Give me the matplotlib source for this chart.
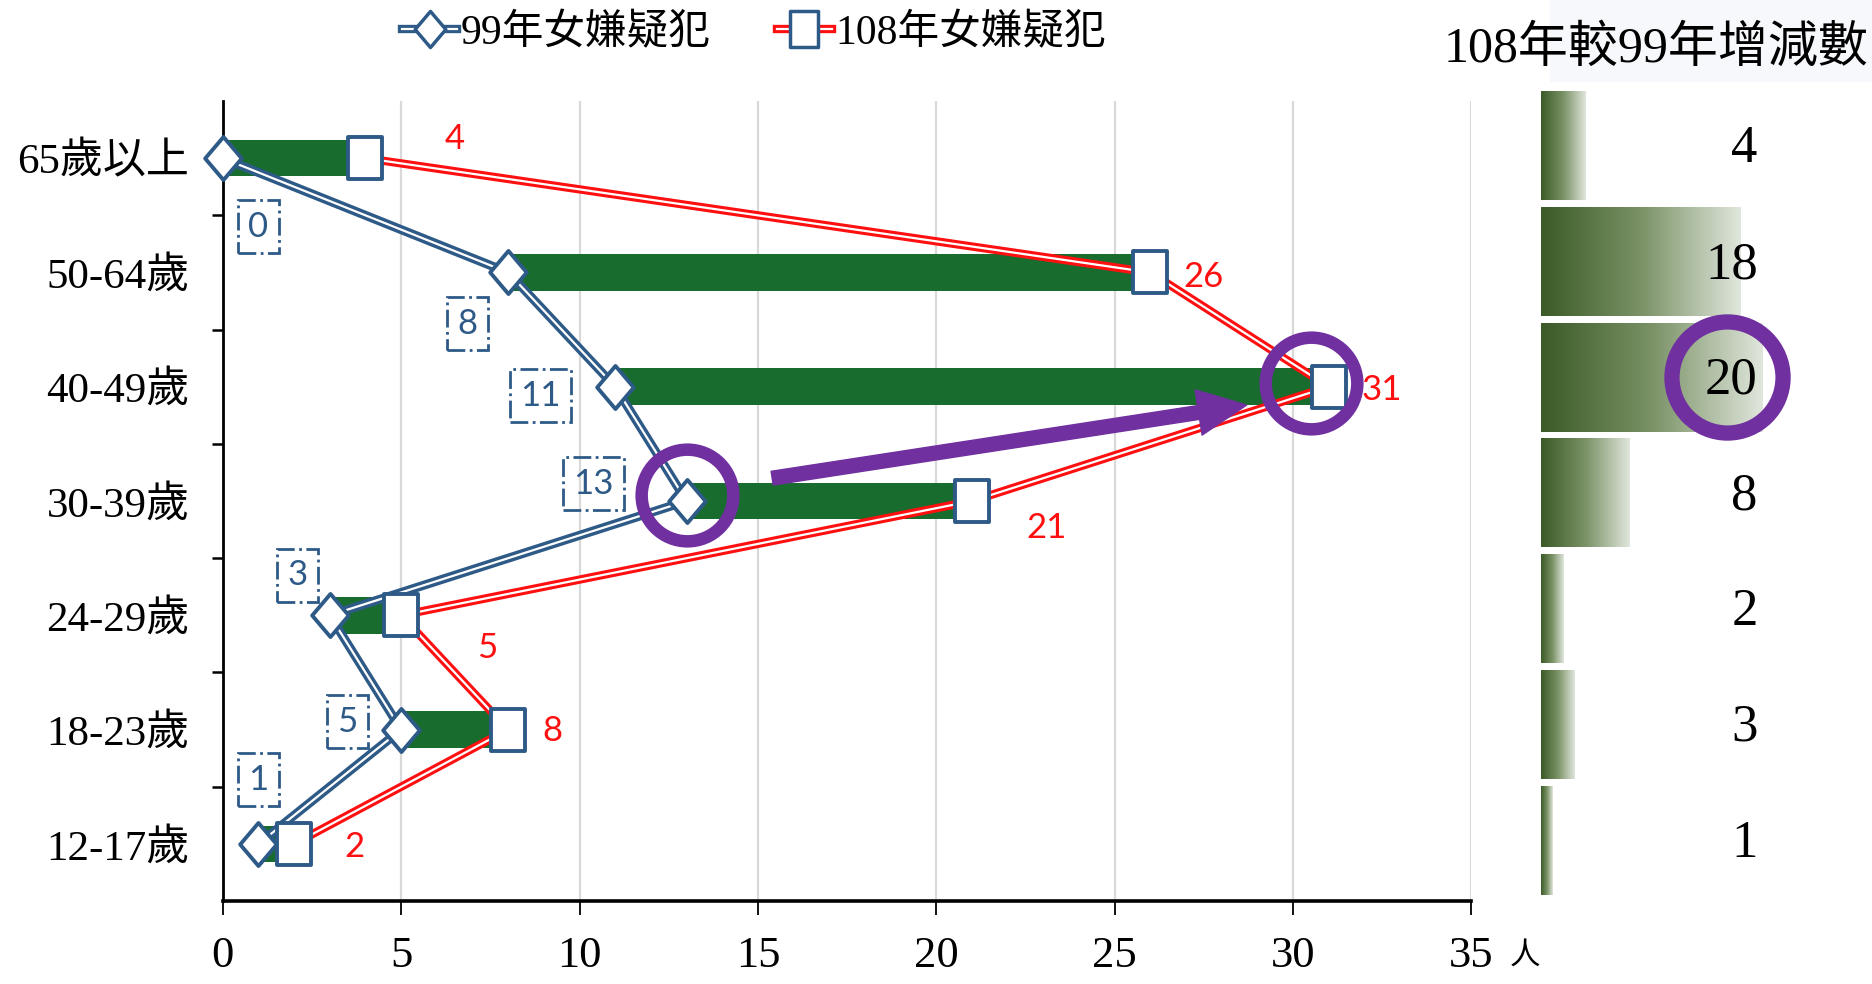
import matplotlib.pyplot as plt
import numpy as np
from matplotlib.lines import Line2D
from matplotlib.path import Path
from matplotlib.colors import LinearSegmentedColormap
from matplotlib.legend_handler import HandlerTuple
from matplotlib.transforms import blended_transform_factory
import matplotlib.patches as mpatches

# Data
categories = ['65歲以上', '50-64歲', '40-49歲', '30-39歲', '24-29歲', '18-23歲', '12-17歲']
y99 = [0, 8, 11, 13, 3, 5, 1]
y108 = [4, 26, 31, 21, 5, 8, 2]
diff = [b - a for a, b in zip(y99, y108)]
label99 = '99年女嫌疑犯'
label108 = '108年女嫌疑犯'
right_title = '108年較99年增減數'

# label offsets (x, y) from each point, hand placed
off99 = [(1.0, 0.6), (-1.15, 0.45), (-2.1, 0.08), (-2.6, -0.15), (-0.9, -0.35), (-1.5, -0.07), (0.0, -0.56)]
off108 = [(2.5, -0.17), (1.5, 0.04), (1.5, 0.03), (2.1, 0.24), (2.4, 0.29), (1.25, 0.01), (1.7, 0.03)]

serif = ['Liberation Serif', 'Noto Sans CJK TC']
blue = '#2e5a87'
red = '#ff1010'
purple = '#7030a0'

fig = plt.figure(figsize=(18.72, 9.84), dpi=100)
ax = fig.add_axes([0.119, 0.0843, 0.667, 0.813])

ypos = np.arange(len(categories))

# green span bars between the two years
ax.barh(ypos, np.array(y108) - np.array(y99), left=y99, height=0.32,
        color='#186c2e', zorder=2)

# double lines (colored with white core)
ax.plot(y108, ypos, color=red, lw=6, zorder=3, solid_joinstyle='miter')
ax.plot(y108, ypos, color='white', lw=1.6, zorder=3.1)
ax.plot(y99, ypos, color=blue, lw=6.5, zorder=3.2, solid_joinstyle='miter')
ax.plot(y99, ypos, color='white', lw=1.6, zorder=3.3)

diamond = Path([(0, 1), (0.85, 0), (0, -1), (-0.85, 0), (0, 1)], closed=True)
rect = Path([(-0.8, -1), (0.8, -1), (0.8, 1), (-0.8, 1), (-0.8, -1)], closed=True)
ax.plot(y99, ypos, ls='none', marker=diamond, ms=31, mfc='white', mec=blue, mew=2.8,
        zorder=5, clip_on=False)
ax.plot(y108, ypos, ls='none', marker=rect, ms=30, mfc='white', mec=blue, mew=2.8,
        zorder=5, clip_on=False)

# value labels
for i, v in enumerate(y99):
    ax.text(v + off99[i][0], i + off99[i][1], str(v), color=blue, fontsize=25,
            family='Lato', ha='center', va='center', zorder=6,
            bbox=dict(boxstyle='square,pad=0.3', fc='none', ec=blue, ls='-.', lw=2))
for i, v in enumerate(y108):
    ax.text(v + off108[i][0], i + off108[i][1], str(v), color=red, fontsize=25,
            family='Lato', ha='center', va='center', zorder=6)

# purple highlights
ax.plot(y99[3], 3 - 0.05, 'o', ms=66, mfc='none', mec=purple, mew=9, zorder=7, clip_on=False)
ax.plot(y108[2] - 0.5, 2 - 0.03, 'o', ms=66, mfc='none', mec=purple, mew=9, zorder=7, clip_on=False)
ax.annotate('', xy=(28.7, 2.16), xytext=(15.4, 2.8),
            arrowprops=dict(arrowstyle='simple,head_length=1.75,head_width=1.65,tail_width=0.5',
                            color=purple, mutation_scale=20, shrinkA=0, shrinkB=0), zorder=7)

# axes styling
ax.set_xlim(0, 35)
ax.set_ylim(6.5, -0.5)
ax.set_xticks(range(0, 36, 5))
ax.set_xticklabels([str(t) for t in range(0, 36, 5)], fontsize=32, family=serif)
ax.set_yticks(ypos)
ax.set_yticklabels(categories, fontsize=31, family=serif)
ax.set_yticks(np.arange(0.5, 6, 1), minor=True)
ax.tick_params(axis='y', which='major', length=0, pad=24)
ax.tick_params(axis='y', which='minor', length=8, width=1.8, direction='out')
ax.tick_params(axis='x', length=10, width=1.3, pad=15)
ax.grid(axis='x', color='#d9d9d9', lw=1.6)
ax.set_axisbelow(True)
for s in ['top', 'right']:
    ax.spines[s].set_visible(False)
ax.spines['left'].set_linewidth(2)
ax.spines['bottom'].set_linewidth(2.6)
ax.text(36.5, -0.068, '人', transform=blended_transform_factory(ax.transData, ax.transAxes),
        fontsize=22, family='Noto Sans CJK TC', ha='center', va='center')

# legend
h99 = (Line2D([], [], color=blue, lw=6), Line2D([], [], color='white', lw=1.6),
       Line2D([], [], ls='none', marker=diamond, ms=26, mfc='white', mec=blue, mew=2.5))
h108 = (Line2D([], [], color=red, lw=6), Line2D([], [], color='white', lw=1.6),
        Line2D([], [], ls='none', marker=rect, ms=26, mfc='white', mec=blue, mew=2.5))
fig.legend([h99, h108], [label99, label108], handler_map={tuple: HandlerTuple(ndivide=1)},
           loc='center', bbox_to_anchor=(0.403, 0.966), ncol=2, frameon=False,
           prop={'family': serif, 'size': 30}, handlelength=1.3, handletextpad=0.1,
           columnspacing=1.6)

# right panel: difference bars with gradient
fig.patches.append(mpatches.Rectangle((0.828, 0.918), 0.172, 0.082, transform=fig.transFigure,
                                      color='#f6f8fc', zorder=0))
ax2 = fig.add_axes([0.823, 0.0874, 0.177, 0.8232])
cmap = LinearSegmentedColormap.from_list('g', ['#3b5a27', '#7a9266', '#e0e6dc'])
grad = np.linspace(0, 1, 256).reshape(1, -1)
for i, d in enumerate(diff):
    ax2.imshow(grad, extent=[0, d, i + 0.47, i - 0.47], cmap=cmap, aspect='auto', zorder=1)
    ax2.text(19.6, i + 0.03, str(d), fontsize=38, family=serif, ha='right', va='center', zorder=3)
ax2.plot(16.8, 2, 'o', ms=80, mfc='none', mec=purple, mew=11, zorder=4, clip_on=False)
ax2.set_xlim(0, 29.9)
ax2.set_ylim(6.5, -0.5)
ax2.axis('off')
fig.text(0.998, 0.95, right_title, fontsize=36, family=serif, ha='right', va='center')

fig.savefig('out.png', dpi=100)
